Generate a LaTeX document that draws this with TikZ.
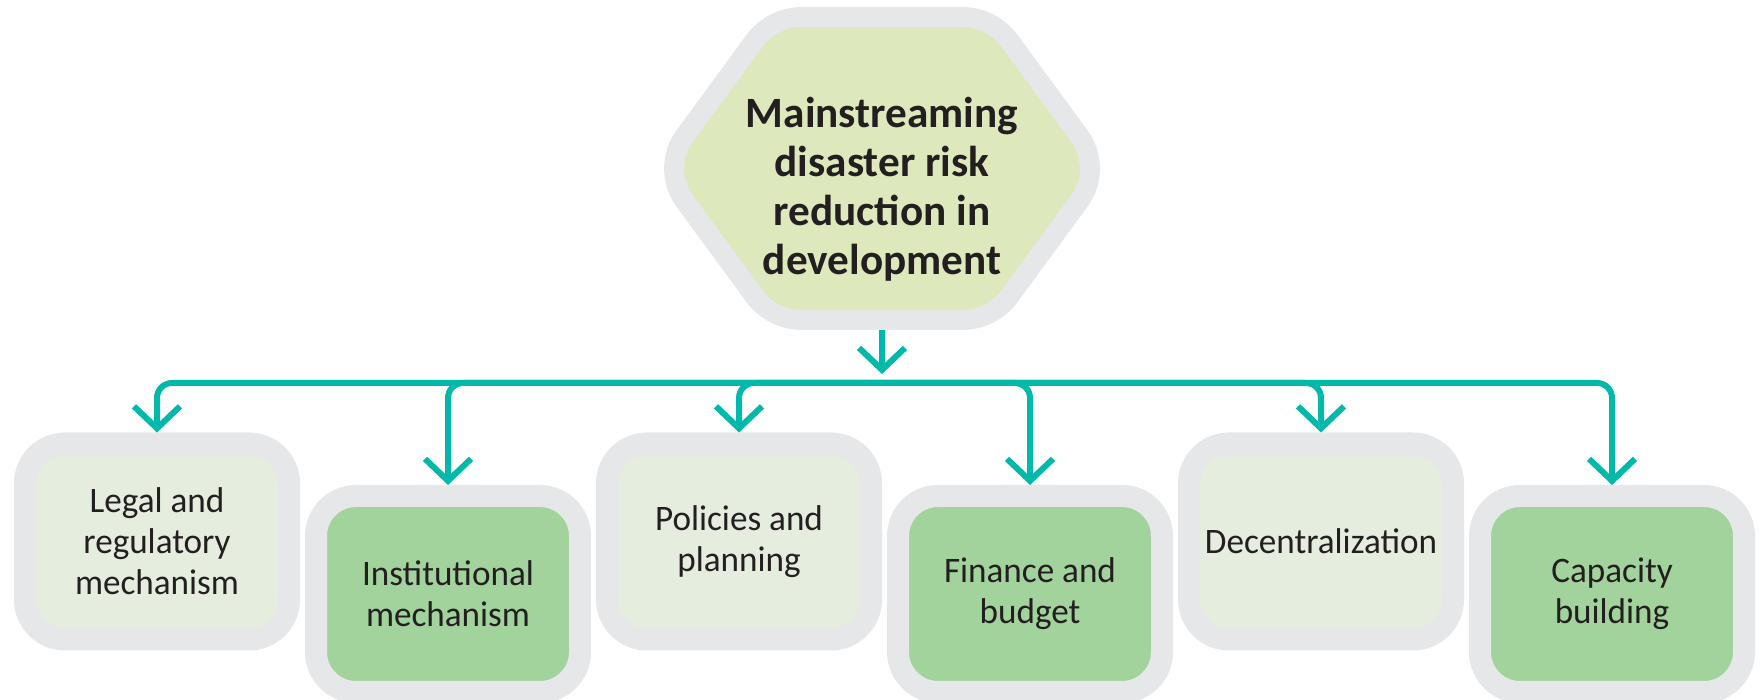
\documentclass[tikz,border=0pt]{standalone}
\usepackage{fontspec}
\setmainfont{Carlito}
\newfontfamily\boxfont[FakeStretch=0.98]{Carlito}
\usetikzlibrary{arrows.meta}

\definecolor{framegray}{HTML}{E6E7E8}
\definecolor{hexgreen}{HTML}{DDE8BC}
\definecolor{palegreen}{HTML}{E4EDDE}
\definecolor{leafgreen}{HTML}{A3D39C}
\definecolor{flowteal}{HTML}{00B9AA}
\definecolor{inkgray}{HTML}{231F20}

\tikzset{
  item/.style={draw=framegray, line width=0.22cm, rounded corners=0.4cm,
    minimum width=2.64cm, minimum height=1.96cm, align=center, text=inkgray,
    font=\boxfont\fontsize{10.2}{11.7}\selectfont},
  pale/.style={item, fill=palegreen},
  leaf/.style={item, fill=leafgreen},
  hexframe/.style={draw=framegray, line width=0.2cm, fill=hexgreen},
  flow/.style={draw=flowteal, line width=0.06cm, rounded corners=0.15cm,
    -{Straight Barb[length=0.22cm,width=0.46cm]}}
}

\begin{document}
\begin{tikzpicture}
  \useasboundingbox (0,0) rectangle (17.62,6.99);

  % top hexagon
  \begin{scope}[shift={(8.82,5.305)}]
    \draw[hexframe] (0,1.515) -- (0.80,1.515)
      .. controls (0.988,1.515) and (1.166,1.425) .. (1.277,1.273)
      -- (1.974,0.323) .. controls (2.114,0.131) and (2.114,-0.131) .. (1.974,-0.323)
      -- (1.277,-1.273) .. controls (1.166,-1.425) and (0.988,-1.515) .. (0.80,-1.515)
      -- (-0.80,-1.515) .. controls (-0.988,-1.515) and (-1.166,-1.425) .. (-1.277,-1.273)
      -- (-1.974,-0.323) .. controls (-2.114,-0.131) and (-2.114,0.131) .. (-1.974,0.323)
      -- (-1.277,1.273) .. controls (-1.166,1.425) and (-0.988,1.515) .. (-0.80,1.515)
      -- cycle;
  \end{scope}
  \node[align=center, text=inkgray, font=\bfseries\fontsize{12.3}{13.9}\selectfont]
    (main) at (8.82,5.10) {Mainstreaming\\disaster risk\\reduction in\\development};

  % boxes
  \node[pale] (legal)    at (1.57,1.575) {Legal and\\regulatory\\mechanism};
  \node[leaf] (inst)     at (4.48,1.05)  {Institutional\\mechanism};
  \node[pale] (policy)   at (7.39,1.575) {Policies and\\planning};
  \node[leaf] (finance)  at (10.30,1.05) {Finance and\\budget};
  \node[pale] (decent)   at (13.21,1.575) {Decentralization};
  \node[leaf] (capacity) at (16.12,1.05) {Capacity\\building};

  % connectors
  \coordinate (hexbot) at (8.82,3.69);
  \coordinate (hubtip) at (8.82,3.25);
  \coordinate (hub) at (8.82,3.16);
  \draw[flow] (hexbot) -- (hubtip);
  \foreach \b in {legal,inst,policy,finance,decent,capacity}
    \draw[flow] (hub) -| (\b.north);
\end{tikzpicture}
\end{document}
